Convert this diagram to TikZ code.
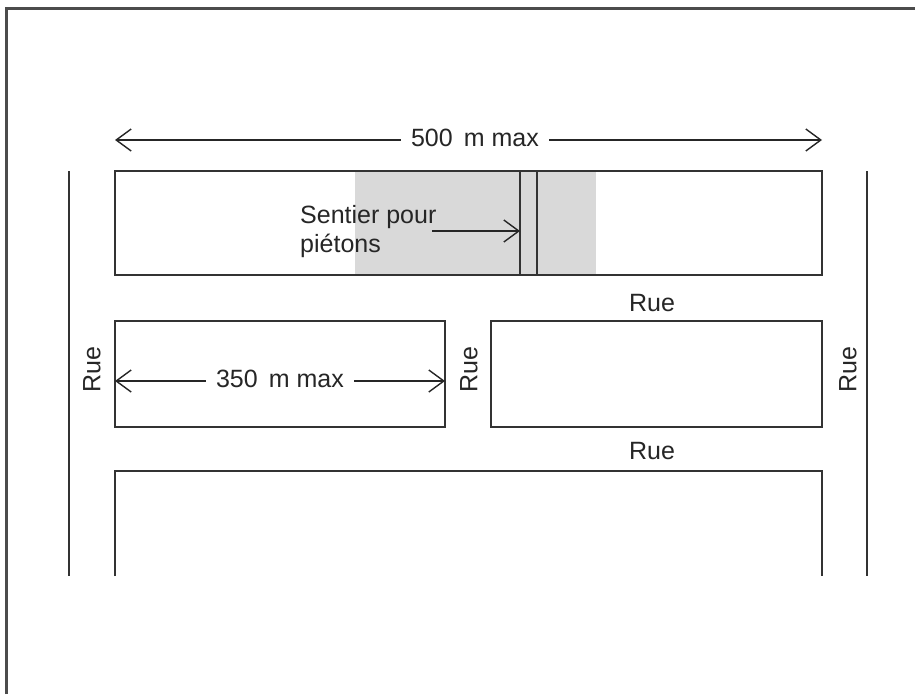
\documentclass[tikz,border=0pt]{standalone}
\usepackage{fontspec}
\setmainfont{Liberation Sans}
\usetikzlibrary{arrows.meta}
\begin{document}
\begin{tikzpicture}[x=1pt,y=-1pt,
  wall/.style={draw=black!80, line width=1.6pt},
  dimarr/.style={draw=black!85, line width=1.4pt, {Straight Barb[length=15pt,width=22pt,line width=1.4pt]}-{Straight Barb[length=15pt,width=22pt,line width=1.4pt]}},
  onearr/.style={draw=black!85, line width=1.4pt, -{Straight Barb[length=15pt,width=22pt,line width=1.4pt]}},
  lbl/.style={font=\fontsize{25}{30}\selectfont, text=black!85, inner sep=0pt},
  dimlbl/.style={lbl, fill=white, inner xsep=10pt, inner ysep=2pt},
  frame/.style={draw=black!70, line width=3pt}]
\useasboundingbox (0,0) rectangle (915,694);
\fill[white] (0,0) rectangle (915,694);
% outer frame (cut by the image edges)
\draw[frame] (6,694) -- (6,8) -- (915,8);
% pedestrian zone shading
\fill[black!15] (355,172) rectangle (596,274);
% blocks
\draw[wall] (115,171) rectangle (822,275);
\draw[wall] (115,321) rectangle (445,427);
\draw[wall] (491,321) rectangle (822,427);
\draw[wall] (115,576) -- (115,471) -- (822,471) -- (822,576);
% outer street edges
\draw[wall] (69,171) -- (69,576);
\draw[wall] (867,171) -- (867,576);
% pedestrian path
\draw[wall] (520,171) -- (520,275);
\draw[wall] (537,171) -- (537,275);
% dimension 500 m
\coordinate (a5l) at (115,140);
\coordinate (a5r) at (822,140);
\draw[dimarr] (a5l) -- (a5r);
\node[dimlbl] (l500) at (475,138) {500\,\ m max};
% dimension 350 m
\coordinate (a3l) at (115,381);
\coordinate (a3r) at (445,381);
\draw[dimarr] (a3l) -- (a3r);
\node[dimlbl] (l350) at (280,379) {350\,\ m max};
% Sentier pour pietons
\node[lbl, anchor=base west, align=left] (sent) at (300,223) {Sentier pour};
\node[lbl, anchor=base west] (piet) at (300,252) {piétons};
\coordinate (sa) at (432,231);
\coordinate (sb) at (520,231);
\draw[onearr] (sa) -- (sb);
% Rue labels
\node[lbl] (rue1) at (652,303) {Rue};
\node[lbl] (rue2) at (652,451) {Rue};
\node[lbl, rotate=90] (rue3) at (92,370) {Rue};
\node[lbl, rotate=90] (rue4) at (469,370) {Rue};
\node[lbl, rotate=90] (rue5) at (848,370) {Rue};
\end{tikzpicture}
\end{document}
